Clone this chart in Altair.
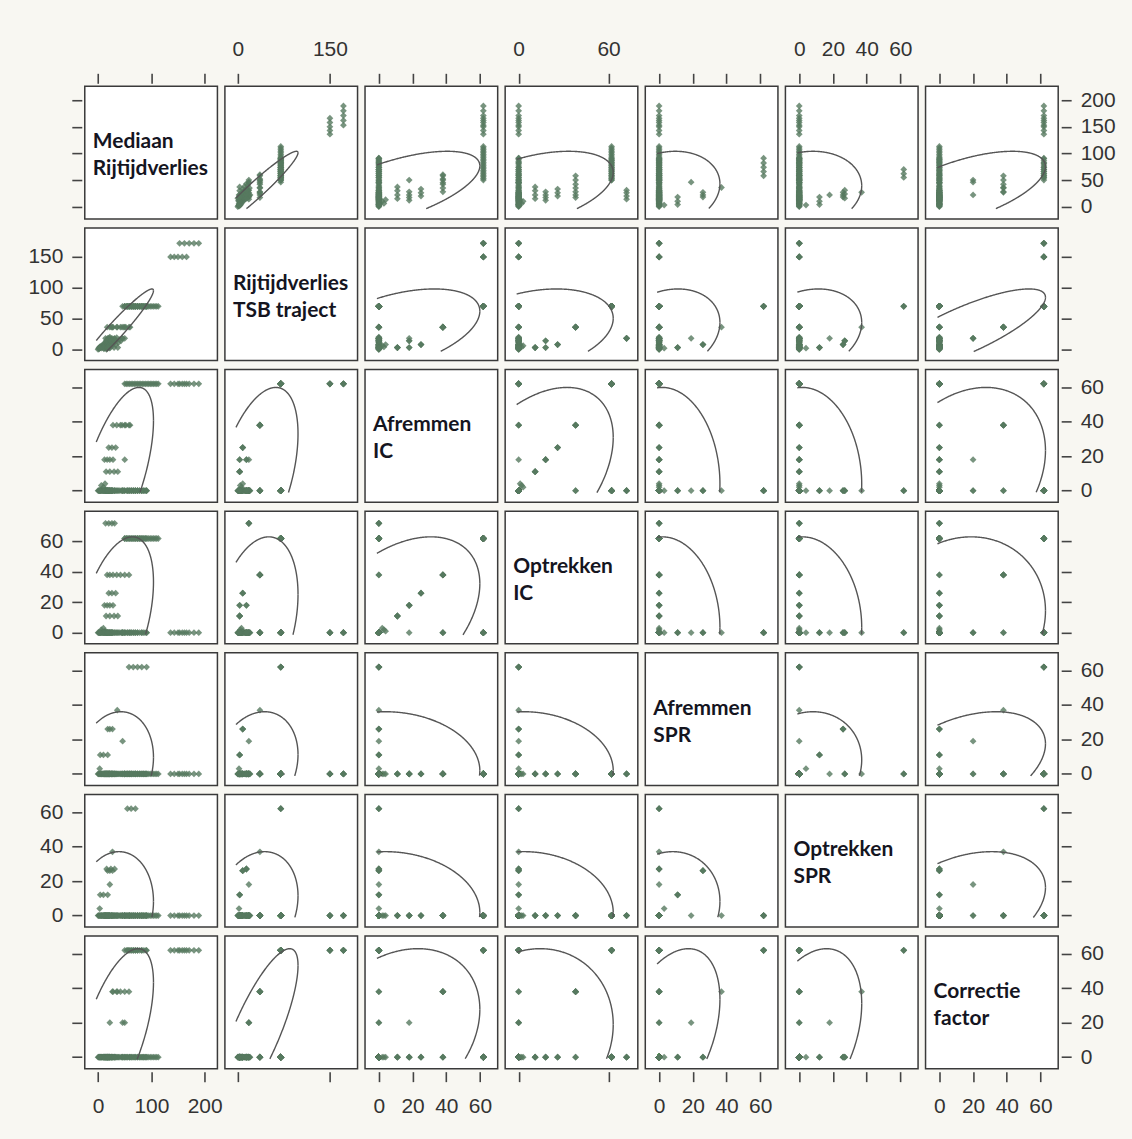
import numpy as np
import pandas as pd
import altair as alt

# ---------------------------------------------------------------------------
# Delay components per train run (seconds); one entry per run.
# Runs are listed group by group (same IC / SPR / correction levels).
# ---------------------------------------------------------------------------
g_m = {
    "ic62_62": [50, 53, 56, 59, 62, 65, 68, 71, 74, 77, 80, 83, 86, 89, 92, 95, 98, 101, 104, 107, 110, 113],
    "ic62_0": [136, 143, 150, 158, 166, 153, 162, 171, 180, 189],
    "ic0_62": [50, 54, 58, 62, 66, 70, 74, 78, 82, 86, 90],
    "ic0_72": [14, 20, 26, 31],
    "ic38_38": [28, 35, 42, 50, 58],
    "ic38_0": [45, 52, 60],
    "ic0_38": [17, 22],
    "ic25_26": [20, 26, 33],
    "ic18_18": [12, 17, 22, 28],
    "ic18_0": [50],
    "ic11_11": [15, 22, 30, 37],
    "ic_small": [6, 10, 13],
    "zero_low": [0, 1, 2, 3, 4, 5, 6, 7, 8, 9, 10, 11, 12, 13, 14, 15, 16, 17, 18, 19, 20, 22, 24, 26],
    "zero_mid": [12, 14, 16, 18, 20, 22, 25, 28, 30, 33, 35, 38, 40, 43, 45],
    "zero_36": [25, 48],
    "zero_70": [46, 50, 55, 59, 63, 67, 70, 74, 78, 82, 85, 88, 91],
    "spr62_0": [58, 66, 74, 82, 91],
    "spr0_62": [55, 62, 70],
    "spr_single": [36, 27, 46, 22],
    "spr26_26": [18, 22, 27],
    "spr0_27": [16, 24, 31],
    "spr11_12": [4, 10, 18],
    "spr3_4": [3],
}
mediaan = sum(g_m.values(), [])

tsb = (
    [70] * 22
    + [150, 150, 150, 150, 150, 172, 172, 172, 172, 172]
    + [70] * 11
    + [18] * 4
    + [36] * 5
    + [36] * 3
    + [36] * 2
    + [8] * 3
    + [3, 3, 14, 14]
    + [18]
    + [3] * 4
    + [4, 6, 8]
    + [0, 2, 1, 4, 3, 5, 2, 6, 4, 3, 8, 1, 5, 2, 7, 4, 0, 6, 3, 8, 5, 2, 7, 6]
    + [10, 12, 15, 18, 14, 20, 16, 12, 17, 13, 19, 11, 16, 14, 18]
    + [36, 36]
    + [70] * 13
    + [70] * 5
    + [70] * 3
    + [36, 36, 18, 18]
    + [8] * 3
    + [14] * 3
    + [3] * 3
    + [2]
)
n_zero = 24 + 15 + 2 + 13
afremmen_ic = (
    [62] * 22 + [62] * 10 + [0] * 11 + [0] * 4 + [38] * 5 + [38] * 3 + [0] * 2
    + [25] * 3 + [18] * 4 + [18] + [11] * 4 + [3, 2, 4] + [0] * n_zero
    + [0] * 5 + [0] * 3 + [0] * 4 + [0] * 3 + [0] * 3 + [0] * 3 + [0]
)
optrekken_ic = (
    [62] * 22 + [0] * 10 + [62] * 11 + [72] * 4 + [38] * 5 + [0] * 3 + [38] * 2
    + [26] * 3 + [18] * 4 + [0] + [11] * 4 + [2, 3, 1] + [0] * n_zero
    + [0] * 5 + [0] * 3 + [0] * 4 + [0] * 3 + [0] * 3 + [0] * 3 + [0]
)
n_ic = 22 + 10 + 11 + 4 + 5 + 3 + 2 + 3 + 4 + 1 + 4 + 3 + n_zero
afremmen_spr = (
    [0] * n_ic
    + [62] * 5 + [0] * 3 + [37, 0, 19, 0] + [26] * 3 + [0] * 3 + [11] * 3 + [3]
)
optrekken_spr = (
    [0] * n_ic
    + [0] * 5 + [62] * 3 + [0, 37, 0, 18] + [26] * 3 + [27] * 3 + [12] * 3 + [4]
)
correctie = (
    [0] * 22 + [62] * 10 + [62] * 11 + [0] * 4 + [38] * 5 + [0] * 3 + [0] * 2
    + [0] * 3 + [0] * 4 + [20] + [0] * 4 + [0] * 3 + [0] * n_zero
    + [62] * 5 + [62] * 3 + [38, 38, 20, 20] + [0] * 3 + [0] * 3 + [0] * 3 + [0]
)

cols = ["M", "T", "AIC", "OIC", "ASPR", "OSPR", "CF"]
labels = [
    ["Mediaan", "Rijtijdverlies"],
    ["Rijtijdverlies", "TSB traject"],
    ["Afremmen", "IC"],
    ["Optrekken", "IC"],
    ["Afremmen", "SPR"],
    ["Optrekken", "SPR"],
    ["Correctie", "factor"],
]

# Moments behind the 95% prediction ellipses
ell_mean = [32, 30, 9, 9, 5, 5, 14]
ell_sd = [29.4, 27.8, 20.8, 22.1, 12.7, 13.1, 20.0]
ell_corr = [
    [1.00, 0.96, 0.62, 0.45, 0.15, 0.10, 0.60],
    [0.96, 1.00, 0.47, 0.30, 0.20, 0.20, 0.80],
    [0.62, 0.47, 1.00, 0.43, -0.10, -0.10, 0.28],
    [0.45, 0.30, 0.43, 1.00, -0.10, -0.10, 0.10],
    [0.15, 0.20, -0.10, -0.10, 1.00, 0.10, 0.40],
    [0.10, 0.20, -0.10, -0.10, 0.10, 1.00, 0.35],
    [0.60, 0.80, 0.28, 0.10, 0.40, 0.35, 1.00],
]

# Axis ranges and tick marks per variable
x_domain = [[-25, 224], [-21, 195], [-8.2, 70.5], [-9, 79.5], [-8.2, 70.5], [-8.2, 70.5], [-8.2, 70.5]]
y_domain = [[-23, 226], [-18, 197], [-6.7, 70.3], [-7.3, 80], [-6.7, 70.3], [-6.7, 70.3], [-6.7, 70.3]]
x_ticks = [[0, 100, 200], [0, 150], [0, 20, 40, 60], [0, 60], [0, 20, 40, 60], [0, 20, 40, 60], [0, 20, 40, 60]]
y_ticks = [[0, 50, 100, 150, 200], [0, 50, 100, 150], [0, 20, 40, 60], [0, 20, 40, 60],
           [0, 20, 40, 60], [0, 20, 40, 60], [0, 20, 40, 60]]

data = pd.DataFrame({
    "M": mediaan, "T": tsb, "AIC": afremmen_ic, "OIC": optrekken_ic,
    "ASPR": afremmen_spr, "OSPR": optrekken_spr, "CF": correctie,
})
span = data.max().values - data.min().values
lo = data.min().values - 0.02 * span
hi = data.max().values + 0.02 * span

N = 7
PANEL = 133
CHI = np.sqrt(5.991)  # 95% radius for two dimensions
POINT_COLOR = "#56795f"
LINE_COLOR = "#555555"


def ellipse_frame(xi, yi):
    t = np.linspace(0, 2 * np.pi, 721)
    r = ell_corr[yi][xi]
    x = ell_mean[xi] + CHI * ell_sd[xi] * np.cos(t)
    y = ell_mean[yi] + CHI * ell_sd[yi] * (r * np.cos(t) + np.sqrt(1 - r * r) * np.sin(t))
    inside = (x >= lo[xi]) & (x <= hi[xi]) & (y >= lo[yi]) & (y <= hi[yi])
    seg = np.cumsum(np.r_[0, (np.diff(inside.astype(int)) != 0).astype(int)])
    return pd.DataFrame({"x": x[inside], "y": y[inside], "seg": seg[inside],
                         "k": np.arange(len(t))[inside]})


def x_axis(row, col):
    common = dict(values=x_ticks[col], title=None, offset=3, labelPadding=14)
    if row == 0:
        return alt.Axis(orient="top", labels=(col % 2 == 1), **common)
    if row == N - 1:
        return alt.Axis(orient="bottom", labels=(col % 2 == 0), **common)
    return None


def y_axis(row, col):
    common = dict(values=y_ticks[row], title=None, offset=3, labelPadding=9)
    if col == 0:
        return alt.Axis(orient="left", labels=(row % 2 == 1), **common)
    if col == N - 1:
        return alt.Axis(orient="right", labels=(row % 2 == 0), **common)
    return None


def panel(row, col):
    xs = alt.Scale(domain=x_domain[col], nice=False, zero=False)
    ys = alt.Scale(domain=y_domain[row], nice=False, zero=False)
    xa, ya = x_axis(row, col), y_axis(row, col)
    pts = alt.Chart(data).mark_point(
        shape="diamond", filled=True, size=46, color=POINT_COLOR,
        opacity=(0 if row == col else 0.8),
    ).encode(
        x=alt.X(f"{cols[col]}:Q", scale=xs, axis=xa),
        y=alt.Y(f"{cols[row]}:Q", scale=ys, axis=ya),
    )
    if row == col:
        txt = alt.Chart(pd.DataFrame({"v": [0]})).mark_text(
            text=labels[row], align="left", baseline="middle", font="Lato",
            fontWeight="bold", fontSize=21, lineHeight=27, color="#15151f",
        ).encode(x=alt.value(8), y=alt.value(56))
        layer = alt.layer(pts, txt)
    else:
        ell = alt.Chart(ellipse_frame(col, row)).mark_line(
            color=LINE_COLOR, strokeWidth=1.4, clip=True,
        ).encode(
            x=alt.X("x:Q", scale=xs, axis=xa),
            y=alt.Y("y:Q", scale=ys, axis=ya),
            detail="seg:N",
            order="k:Q",
        )
        layer = alt.layer(pts, ell)
    return layer.properties(width=PANEL, height=PANEL)


panels = [panel(r, c) for r in range(N) for c in range(N)]

chart = (
    alt.concat(*panels, columns=N, spacing={"row": 9, "column": 7.5})
    .resolve_scale(x="independent", y="independent")
    .properties(
        bounds="flush",
        background="#f8f7f2",
        padding={"left": 27, "top": 36, "right": 16, "bottom": 20},
    )
    .configure_view(stroke="#3a3a3a", strokeWidth=1.5, fill="white")
    .configure_axis(
        domain=False, grid=False, tickSize=10, tickWidth=1.6, tickColor="#444444",
        labelFont="Liberation Sans", labelFontSize=21, labelColor="#333333",
    )
)

chart.save("out.html", embed_options={"renderer": "svg", "actions": False})
